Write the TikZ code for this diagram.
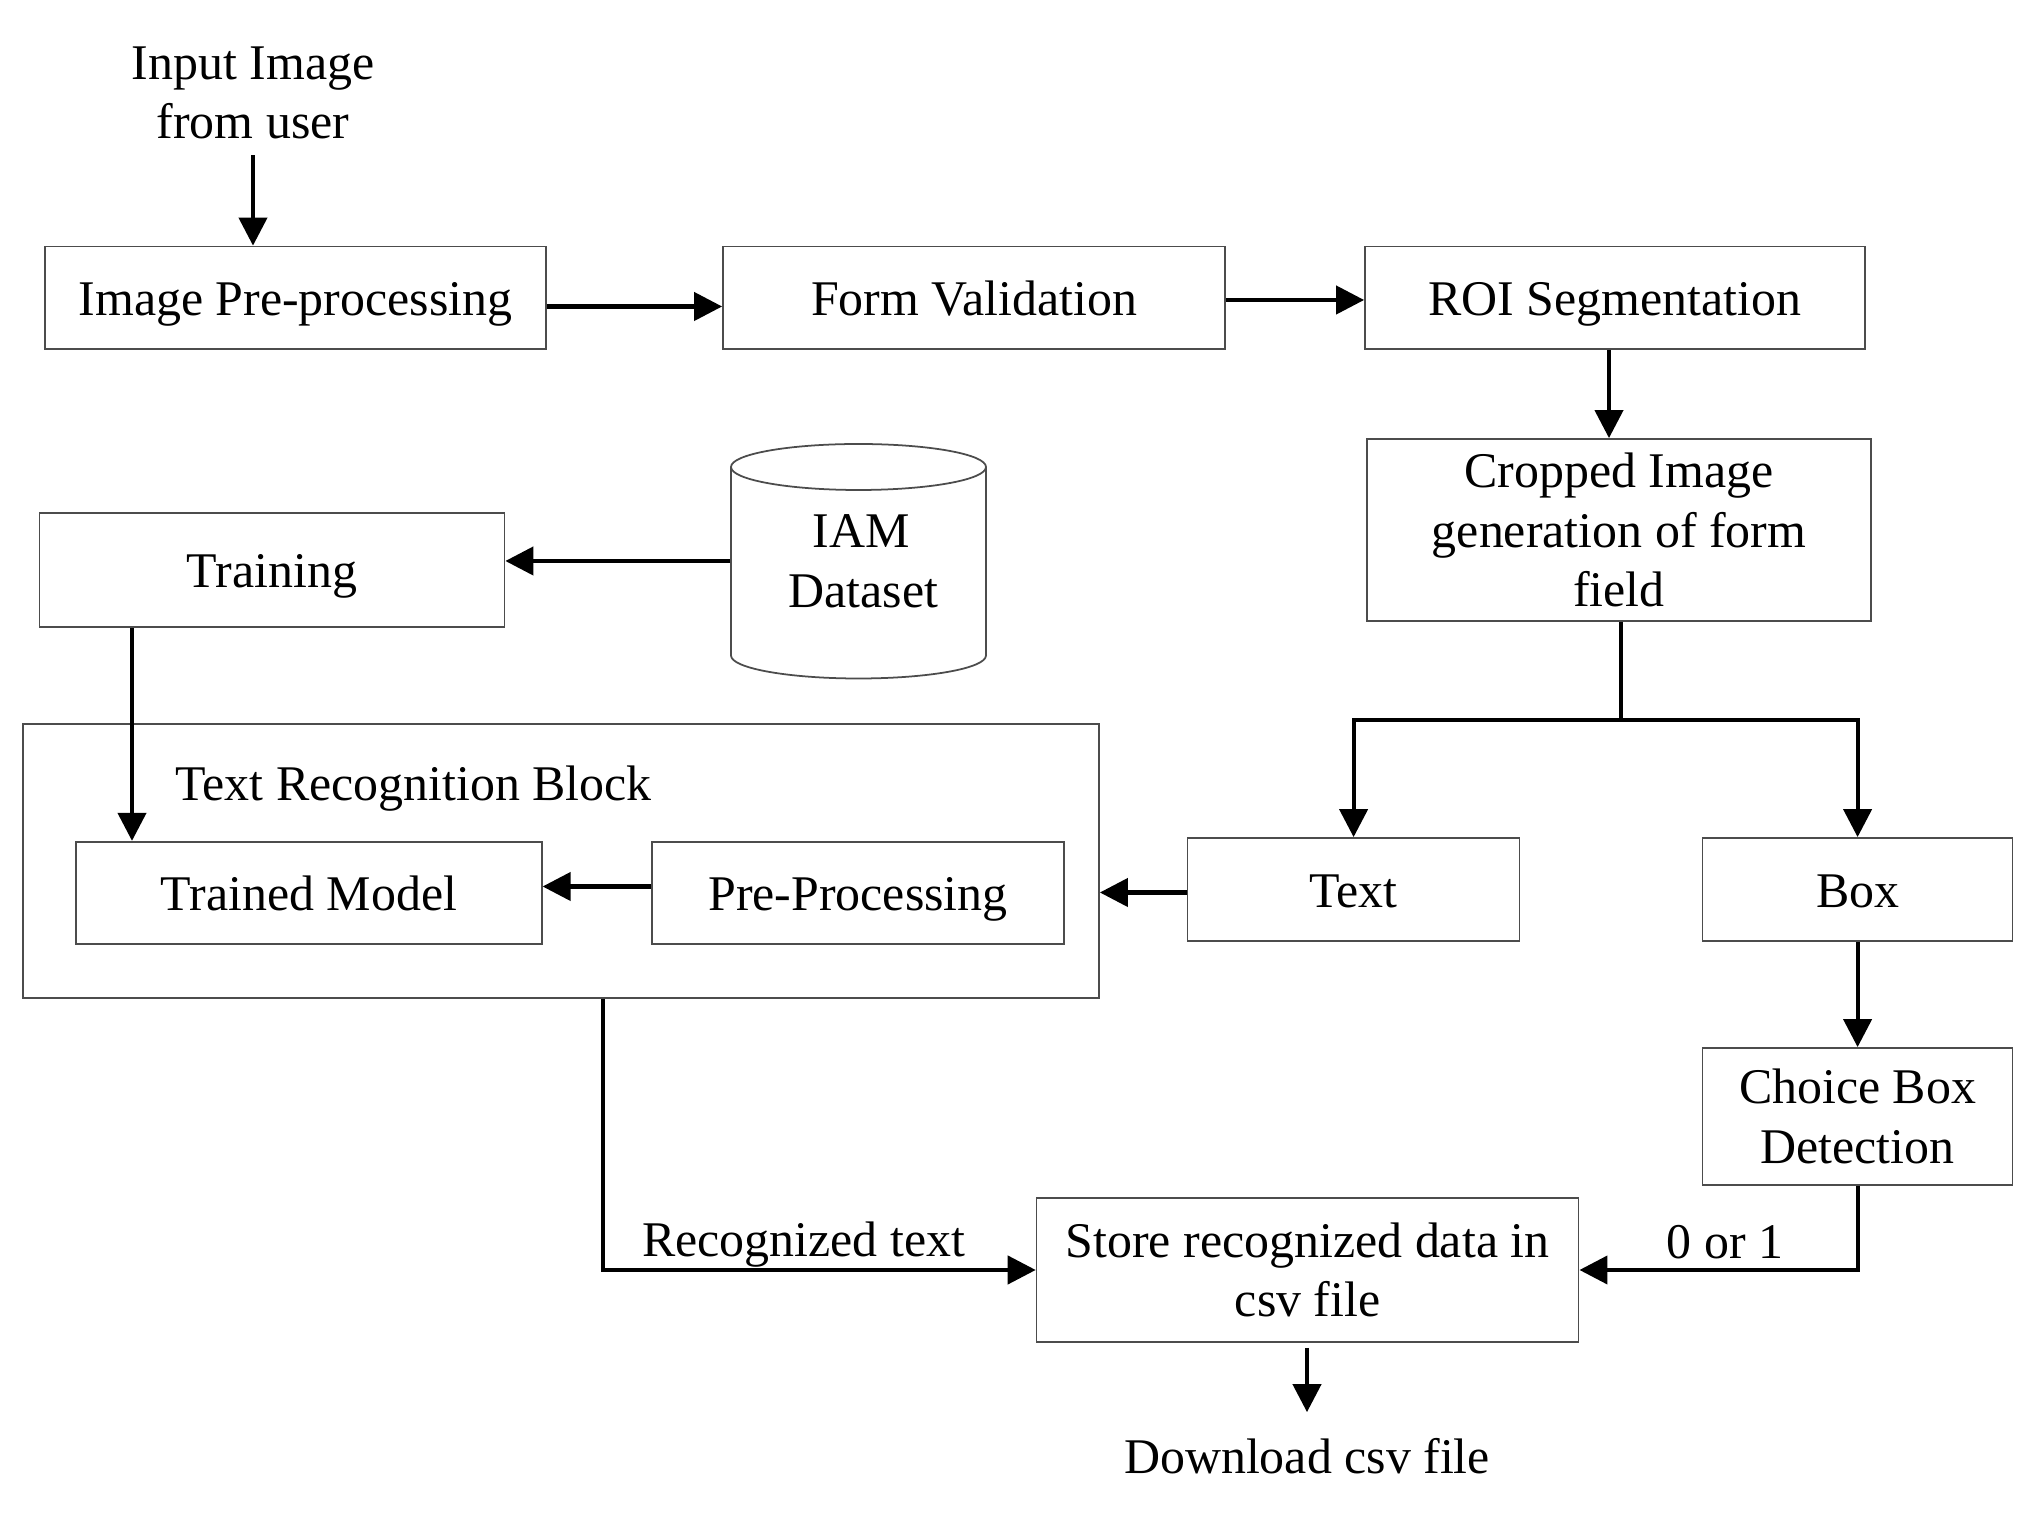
\documentclass[tikz,border=0pt]{standalone}
\usepackage{fontspec}
\setmainfont{Liberation Serif}
\usetikzlibrary{arrows.meta}
\begin{document}
\begin{tikzpicture}[
  every node/.style={font=\fontsize{14.2}{17}\selectfont, inner sep=0pt},
  blk/.style={draw=black!70, line width=0.5pt, rectangle, align=center},
  one/.style={text height=10.2pt, text depth=0pt},
  arr/.style={-{Triangle[length=2.8mm,width=2.8mm]}, line width=1.2pt},
  ln/.style={line width=1.2pt},
  plain/.style={align=center}
]
\fill[white] (0,0) rectangle (20.34,-15.31);
\useasboundingbox (0,0) rectangle (20.34,-15.31);

% top row
\node[plain] (inp) at (2.53,-0.93) {Input Image\\from user};
\node[blk, one, minimum width=5.01cm, minimum height=1.025cm] (ip) at (2.955,-2.9775) {Image Pre-processing};
\node[blk, one, minimum width=5.02cm, minimum height=1.025cm] (fv) at (9.74,-2.9775) {Form Validation};
\node[blk, one, minimum width=5.00cm, minimum height=1.025cm] (roi) at (16.15,-2.9775) {ROI Segmentation};
\node[blk, minimum width=5.04cm, minimum height=1.82cm] (crop) at (16.19,-5.30) {Cropped Image\\generation of form\\field};

% training and dataset
\node[blk, one, minimum width=4.65cm, minimum height=1.145cm] (training) at (2.72,-5.70) {Training};
\draw[draw=black!70, line width=0.5pt] (7.31,-4.67) -- (7.31,-6.555)
  arc[start angle=180, end angle=360, x radius=1.275, y radius=0.23] -- (9.86,-4.67);
\draw[draw=black!70, line width=0.5pt] (8.585,-4.67) ellipse[x radius=1.275, y radius=0.23];
\node[plain, minimum width=2.55cm, minimum height=2.345cm] (iam) at (8.585,-5.61) {\hspace*{0.06cm}IAM\\\hspace*{0.1cm}Dataset};

% text recognition block
\node[blk, minimum width=10.76cm, minimum height=2.74cm] (trb) at (5.61,-8.61) {};
\node[anchor=base west] (trblab) at (1.75,-8.007) {Text Recognition Block};
\node[blk, one, minimum width=4.655cm, minimum height=1.025cm] (tm) at (3.09,-8.93) {Trained Model};
\node[blk, one, minimum width=4.12cm, minimum height=1.025cm] (pp) at (8.58,-8.93) {Pre-Processing};

% right side
\node[blk, one, minimum width=3.32cm, minimum height=1.03cm] (text) at (13.536,-8.895) {Text};
\node[blk, one, minimum width=3.10cm, minimum height=1.03cm] (bx) at (18.576,-8.895) {Box};
\node[blk, minimum width=3.10cm, minimum height=1.37cm] (choice) at (18.576,-11.165) {Choice Box\\Detection};
\node[blk, minimum width=5.42cm, minimum height=1.44cm] (store) at (13.076,-12.70) {Store recognized data in\\csv file};
\node[anchor=base] (dl) at (13.07,-14.74) {Download csv file};
\node[anchor=base] (lab01) at (17.25,-12.59) {0 or 1};
\node[anchor=base] (labrt) at (8.035,-12.565) {Recognized text};

% connectors
\draw[arr] ([yshift=-0.15cm]inp.south) -- (inp.south |- ip.north);
\draw[arr] ([yshift=-0.0875cm]ip.east) -- ([yshift=-0.0875cm]fv.west);
\draw[arr] ([yshift=-0.0225cm]fv.east) -- ([yshift=-0.0225cm]roi.west);
\draw[arr] ([xshift=-0.06cm]roi.south) -- ([xshift=-0.06cm]roi.south |- crop.north);
\coordinate (br) at (16.21,-7.20);
\draw[ln] (br |- crop.south) -- (br);
\draw[arr] (br) -| (text.north);
\draw[arr] (br) -| (bx.north);
\draw[arr] (bx.south) -- (choice.north);
\draw[arr] (choice.south) |- (store.east);
\draw[arr] ([yshift=-0.03cm]text.west) -- ([yshift=-0.03cm]text.west -| trb.east);
\draw[arr] ([yshift=0.065cm]pp.west) -- ([yshift=0.065cm]tm.east);
\draw[arr] (iam.west) -- (iam.west -| training.east);
\draw[arr] (training.south -| 1.32,0) -- (tm.north -| 1.32,0);
\draw[arr] (trb.south -| 6.03,0) |- (store.west);
\draw[arr] ([yshift=-0.05cm]store.south -| dl) -- ([yshift=0.26cm]dl.north);
\end{tikzpicture}
\end{document}
